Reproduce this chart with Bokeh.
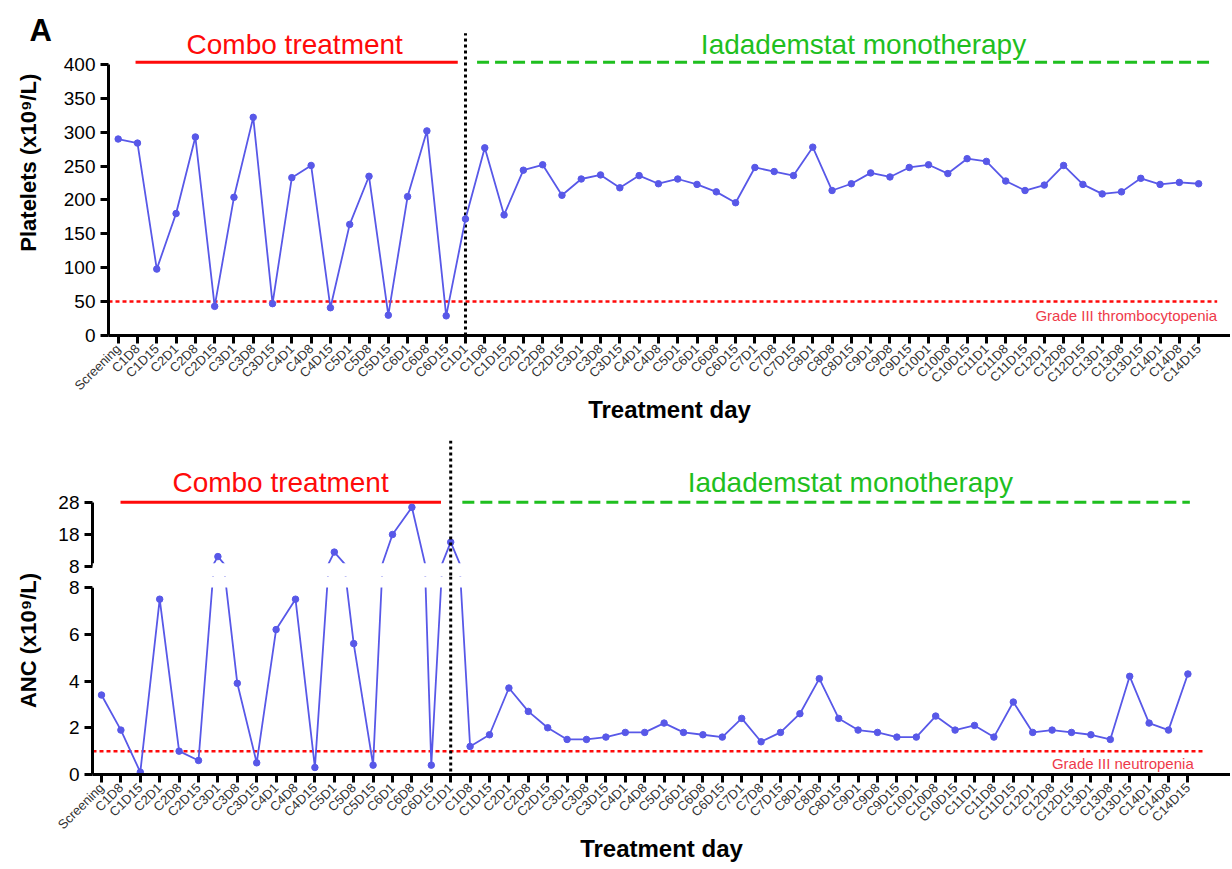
import math
from bokeh.plotting import figure
from bokeh.models import Range1d, FixedTicker, Label, Span, BoxAnnotation
from bokeh.layouts import column, row
from bokeh.embed import file_html
from bokeh.resources import INLINE

# ---------------- data ----------------
labels = ["Screening", "C1D8", "C1D15", "C2D1", "C2D8", "C2D15", "C3D1", "C3D8", "C3D15",
          "C4D1", "C4D8", "C4D15", "C5D1", "C5D8", "C5D15", "C6D1", "C6D8", "C6D15",
          "C1D1", "C1D8", "C1D15", "C2D1", "C2D8", "C2D15", "C3D1", "C3D8", "C3D15",
          "C4D1", "C4D8", "C5D1", "C6D1", "C6D8", "C6D15", "C7D1", "C7D8", "C7D15",
          "C8D1", "C8D8", "C8D15", "C9D1", "C9D8", "C9D15", "C10D1", "C10D8", "C10D15",
          "C11D1", "C11D8", "C11D15", "C12D1", "C12D8", "C12D15", "C13D1", "C13D8", "C13D15",
          "C14D1", "C14D8", "C14D15"]

platelets = [290, 284, 98, 180, 293, 43, 204, 322, 47, 233, 251, 41, 164, 235, 30, 205, 302, 29,
             172, 277, 178, 244, 252, 207, 231, 237, 218, 236, 224, 231, 223, 212, 196, 248, 242, 236,
             278, 214, 224, 240, 234, 248, 252, 239, 261, 257, 228, 214, 222, 251, 223, 209, 212, 232,
             223, 226, 224]

anc = [3.4, 1.9, 0.1, 7.5, 1.0, 0.6, 11.1, 3.9, 0.5, 6.2, 7.5, 0.3, 12.5, 5.6, 0.4, 18.0, 26.5, 0.4,
       15.6, 1.2, 1.7, 3.7, 2.7, 2.0, 1.5, 1.5, 1.6, 1.8, 1.8, 2.2, 1.8, 1.7, 1.6, 2.4, 1.4, 1.8,
       2.6, 4.1, 2.4, 1.9, 1.8, 1.6, 1.6, 2.5, 1.9, 2.1, 1.6, 3.1, 1.8, 1.9, 1.8, 1.7, 1.5, 4.2,
       2.2, 1.9, 4.3]

platelet_ticks = [0, 50, 100, 150, 200, 250, 300, 350, 400]
anc_upper_ticks = [8, 18, 28]
anc_lower_ticks = [0, 2, 4, 6, 8]
platelet_threshold = 50
anc_threshold = 1
switch_index = 18  # start of monotherapy (C1D1)

# ---------------- style ----------------
FONT = "Liberation Sans"
BLUE = "#5858e8"
RED = "#ff0a0a"
GREEN = "#1fbf1f"
LABEL_RED = "#ee3a4a"

x = list(range(len(labels)))
overrides = {i: lab for i, lab in enumerate(labels)}


def base_style(p):
    p.outline_line_color = None
    p.grid.visible = False
    p.background_fill_color = "white"
    p.border_fill_color = "white"
    for ax in p.axis:
        ax.axis_line_width = 3
        ax.axis_line_color = "black"
        ax.major_tick_line_width = 3
        ax.major_tick_line_color = "black"
        ax.major_tick_out = 8
        ax.major_tick_in = 0
        ax.minor_tick_line_color = None
        ax.major_label_text_font = FONT
        ax.major_label_text_color = "black"


def style_x(p):
    ax = p.xaxis[0]
    ax.ticker = FixedTicker(ticks=x)
    ax.major_label_overrides = overrides
    ax.major_label_orientation = math.pi / 4
    ax.major_label_text_font_size = "13px"
    ax.major_label_text_color = "#333333"
    ax.major_label_standoff = 3
    ax.axis_label = "Treatment day"
    ax.axis_label_text_font = FONT
    ax.axis_label_text_font_style = "bold"
    ax.axis_label_text_font_size = "24px"
    ax.axis_label_text_color = "black"
    ax.axis_label_standoff = -5


def style_y(p, ticks, bounds):
    ax = p.yaxis[0]
    ax.ticker = FixedTicker(ticks=ticks)
    ax.bounds = bounds
    ax.major_label_text_font_size = "19px"
    ax.major_label_standoff = 5


def add_text(p, xx, yy, text, color, size, align="center", style="normal", angle=0):
    p.add_layout(Label(x=xx, y=yy, text=text, text_color=color, text_font=FONT,
                       text_font_size=size, text_align=align, text_baseline="middle",
                       text_font_style=style, angle=angle))


def label_panel(w, h):
    f = figure(width=w, height=h, output_backend="svg", toolbar_location=None,
               x_range=Range1d(0, w), y_range=Range1d(0, h),
               x_axis_location=None, y_axis_location=None,
               min_border_left=0, min_border_right=0, min_border_top=0, min_border_bottom=0)
    f.outline_line_color = None
    f.grid.visible = False
    return f


def draw_series(p, ys):
    p.line(x, ys, line_color=BLUE, line_width=1.8)
    p.scatter(x, ys, size=6.5, fill_color=BLUE, line_color=BLUE)


# ---------------- top chart: platelets ----------------
TOP_H = 430
top_left = label_panel(60, TOP_H)
add_text(top_left, 29, TOP_H - 24.3, "A", "black", "31px", align="left", style="bold")
add_text(top_left, 28, TOP_H - 200, "Platelets (x10⁹/L)", "black", "22px",
         style="bold", angle=math.pi / 2)

top = figure(width=1170, height=TOP_H, output_backend="svg", toolbar_location=None,
             x_range=Range1d(-0.502, 57.65), y_range=Range1d(0, 476.75),
             min_border_left=46, min_border_right=0, min_border_top=12, min_border_bottom=95)
base_style(top)
style_x(top)
style_y(top, platelet_ticks, (0, 400))

top.segment(x0=-0.502, y0=platelet_threshold, x1=56.96, y1=platelet_threshold,
            line_color=RED, line_width=2.5, line_dash="4 3")
top.segment(x0=switch_index, y0=0, x1=switch_index, y1=446,
            line_color="black", line_width=3, line_dash="3 3")
top.segment(x0=0.9, y0=403.4, x1=17.6, y1=403.4, line_color=RED, line_width=3)
top.segment(x0=18.6, y0=403.4, x1=56.8, y1=403.4, line_color=GREEN, line_width=3,
            line_dash="12 6")
draw_series(top, platelets)

add_text(top, 9.15, 429.5, "Combo treatment", RED, "28px")
add_text(top, 38.63, 429.5, "Iadademstat monotherapy", GREEN, "28px")
add_text(top, 56.96, 29.5, "Grade III thrombocytopenia", LABEL_RED, "15px", align="right")

# ---------------- bottom chart: ANC (broken axis) ----------------
UP_H = 146
LOW_H = 291
bot_left = label_panel(50, UP_H + LOW_H)
add_text(bot_left, 28, UP_H + LOW_H - 210, "ANC (x10⁹/L)", "black", "22px",
         style="bold", angle=math.pi / 2)

up = figure(width=1180, height=UP_H, output_backend="svg", toolbar_location=None,
            x_range=Range1d(-0.464, 58.196), y_range=Range1d(4.875, 47.375),
            x_axis_location=None,
            min_border_left=42, min_border_right=0, min_border_top=10, min_border_bottom=0)
base_style(up)
style_y(up, anc_upper_ticks, (8, 28))

up.segment(x0=0.98, y0=28.1, x1=17.5, y1=28.1, line_color=RED, line_width=3)
up.segment(x0=18.6, y0=28.1, x1=56.1, y1=28.1, line_color=GREEN, line_width=3,
           line_dash="12 6")
draw_series(up, anc)
up.add_layout(BoxAnnotation(top=9.0, fill_color="white", fill_alpha=1.0, line_alpha=0))
up.add_layout(Span(location=switch_index, dimension="height", line_color="black",
                   line_width=3, line_dash="3 3"))
add_text(up, 9.23, 34.2, "Combo treatment", RED, "28px")
add_text(up, 38.6, 34.2, "Iadademstat monotherapy", GREEN, "28px")

low = figure(width=1180, height=LOW_H, output_backend="svg", toolbar_location=None,
             x_range=Range1d(-0.464, 58.196), y_range=Range1d(0, 8.4706),
             min_border_left=42, min_border_right=0, min_border_top=0, min_border_bottom=93)
base_style(low)
style_x(low)
style_y(low, anc_lower_ticks, (0, 8))

low.segment(x0=-0.464, y0=anc_threshold, x1=56.9, y1=anc_threshold,
            line_color=RED, line_width=2.5, line_dash="4 3")
draw_series(low, anc)
low.add_layout(BoxAnnotation(bottom=8, fill_color="white", fill_alpha=1.0, line_alpha=0))
low.add_layout(Span(location=switch_index, dimension="height", line_color="black",
                    line_width=3, line_dash="3 3"))
add_text(low, 56.3, 0.47, "Grade III neutropenia", LABEL_RED, "15px", align="right")

layout = column(row(top_left, top, spacing=0),
                row(bot_left, column(up, low, spacing=0), spacing=0),
                spacing=0)
open("out.html", "w").write(file_html(layout, INLINE))
